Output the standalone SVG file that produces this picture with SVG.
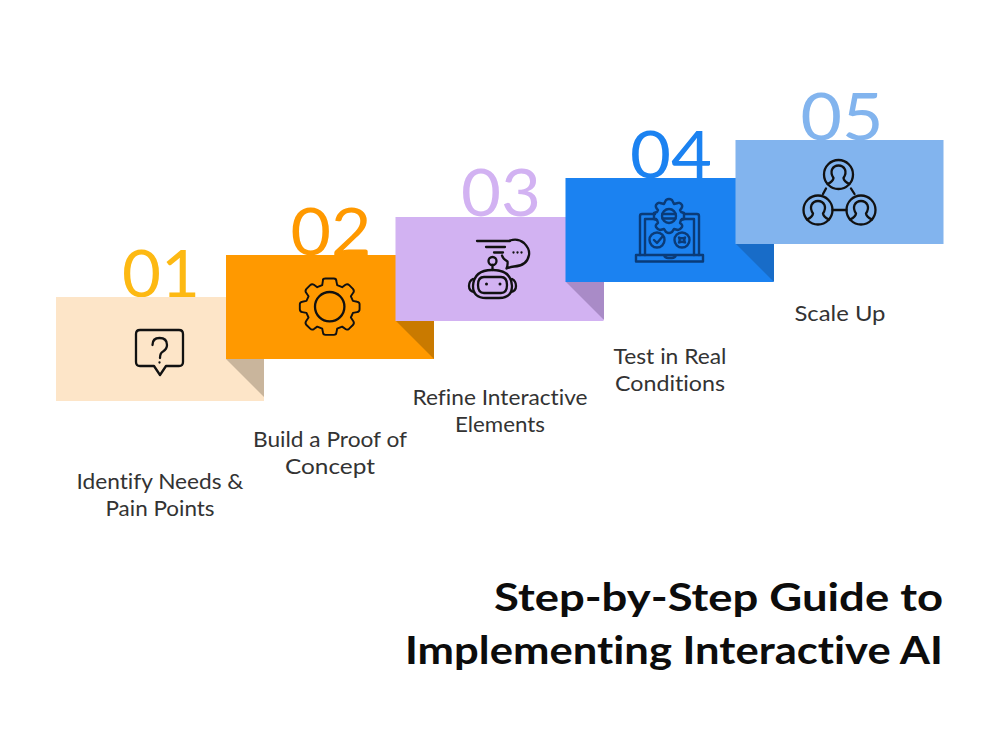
<svg xmlns="http://www.w3.org/2000/svg" width="1000" height="750" viewBox="0 0 1000 750">
<style>
text{font-family:"Lato","Liberation Sans",sans-serif;font-variant-ligatures:none}
.num{font-size:65px;font-weight:400;text-anchor:middle}
.lab{font-size:21px;fill:#333;text-anchor:middle}
.ttl{font-size:39px;font-weight:700;fill:#0c0c0c;text-anchor:end}
.ic{fill:none;stroke:#111;stroke-width:2.300;stroke-linecap:round;stroke-linejoin:round}
.icb{fill:none;stroke:#0a3b78;stroke-width:2.400;stroke-linecap:round;stroke-linejoin:round}
</style>
<rect width="1000" height="750" fill="#fff"/>
<g id="step1">
<text class="num" x="161" y="297" fill="#fdb913" textLength="78" lengthAdjust="spacingAndGlyphs">01</text>
<rect x="56" y="297" width="208" height="104" fill="#fde5c8"/>
<path class="ic" d="M140 330H179Q183 330 183 334V362Q183 366 179 366H166L160 375L154 366H140Q136 366 136 362V334Q136 330 140 330Z"/>
<path class="ic" d="M152.500 345Q152.500 338 159.500 338Q167 338 167 345Q167 349 163 351.500Q160 353 160 358M159.500 362.500V362.600"/>
<text class="lab" x="160" y="489" textLength="167" lengthAdjust="spacingAndGlyphs">Identify Needs &amp;</text>
<text class="lab" x="160" y="516" textLength="109" lengthAdjust="spacingAndGlyphs">Pain Points</text>
</g>
<g id="step2">
<polygon points="226,359 264,359 264,397" fill="#c9b59c"/>
<text class="num" x="331" y="255" fill="#ff9900" textLength="81" lengthAdjust="spacingAndGlyphs">02</text>
<rect x="226" y="255" width="208" height="104" fill="#ff9900"/>
<path class="ic" stroke-width="3" transform="translate(329.700 306.700) scale(.83) translate(-330 -312)" d="M322 279.500Q322 278 325 278H335Q338 278 338 281L339 286L345 288.500L349 285.500Q351.500 284 353.500 286L358 290.500Q360 293 358.500 295L355.500 299.500L358 305L363 306Q366 306.500 366 309V315Q366 318 363 318.500L358 319.500L355.500 325L358.500 329.500Q360 332 358 334L353.500 338.500Q351 340.500 349 339L345 336L339 338.500L338 343.500Q338 346 335 346H325Q322 346 322 343.500L321 338.500L315 336L311 339Q308.500 340.500 306.500 338.500L302 334Q300 332 301.500 329.500L304.500 325L302 319.500L297 318.500Q294 318 294 315V309Q294 306.500 297 306L302 305L304.500 299.500L301.500 295Q300 293 302 290.500L306.500 286Q308.500 284 311 285.500L315 288.500L321 286Z"/>
<circle class="ic" cx="329.700" cy="306.700" r="14.700"/>
<text class="lab" x="330" y="447" textLength="154" lengthAdjust="spacingAndGlyphs">Build a Proof of</text>
<text class="lab" x="330" y="474" textLength="90" lengthAdjust="spacingAndGlyphs">Concept</text>
</g>
<g id="step3">
<polygon points="396,321 434,321 434,359" fill="#c97a00"/>
<text class="num" x="501" y="216" fill="#d2b2f2" textLength="80" lengthAdjust="spacingAndGlyphs">03</text>
<rect x="395.500" y="217" width="208" height="104" fill="#d2b2f2"/>
<path class="ic" d="M477 241H510M486 247H505M494 252.500H503"/>
<path class="ic" d="M510 240.500Q518 238 524 243Q530 249 529 255Q527 266 514 266.500Q510 267 506.500 268.500Q508 265 507.500 261.500Q503 259 502 255.500"/>
<path class="ic" stroke-width="2.600" d="M513.500 252.500V252.600M517.500 252.500V252.600M521.500 252.500V252.600"/>
<circle class="ic" cx="492.500" cy="261" r="4"/>
<path class="ic" d="M492.500 265V270"/>
<path class="ic" d="M473 286Q474 270 492 270H493Q511 270 512 286Q512 298 499 298H486Q473 298 473 286Z"/>
<path class="ic" d="M484 277H501Q507 277 507 285Q507 293 501 293H484Q478 293 478 285Q478 277 484 277Z"/>
<path class="ic" d="M473 279Q469 281 469 286Q469 291 474 292M512 279Q516 281 516 286Q516 291 511 292"/>
<circle cx="486.500" cy="284" r="1.500" fill="#111"/><circle cx="500" cy="284" r="1.500" fill="#111"/>
<text class="lab" x="500" y="405" textLength="175" lengthAdjust="spacingAndGlyphs">Refine Interactive</text>
<text class="lab" x="500" y="432" textLength="90" lengthAdjust="spacingAndGlyphs">Elements</text>
</g>
<g id="step4">
<polygon points="566,282 604,282 604,320" fill="#a98bc7"/>
<text class="num" x="671" y="178" fill="#1b82f1" textLength="82" lengthAdjust="spacingAndGlyphs">04</text>
<rect x="565.500" y="178" width="208" height="104" fill="#1b82f1"/>
<path class="icb" d="M655 214H642Q640 214 640 216V255M699 255V216Q699 214 697 214H684M645 255V219H656M694 255V219H682"/>
<path class="icb" d="M636 255H703V261.500H636ZM664 255Q665 258 668 258H672Q675 258 676 255"/>
<path class="icb" d="M666 201Q669 199 672 201L674 205L678 204Q680 203 682 206Q683 208 680 211L681 213L684 214V220L681 221L680 224Q683 226 682 228Q680 231 678 231L674 230L672 233Q669 235 666 233L664 230L660 231Q658 231 656 228Q655 226 658 224L657 221L654 220V214L657 213L658 211Q655 208 656 206Q658 203 660 204L664 205Z" transform="translate(0 -1)"/>
<circle class="icb" cx="669" cy="216" r="7"/>
<path class="icb" d="M662.500 214H675.500M662.500 218.500H675.500"/>
<circle class="icb" cx="657" cy="240" r="7.500"/>
<path class="icb" d="M654 240L657 243L663 236"/>
<circle class="icb" cx="682" cy="240" r="7.500"/>
<path class="icb" d="M679 237.500Q682 239 685 237.500Q683.500 240 685 242.500Q682 241 679 242.500Q680.500 240 679 237.500Z"/>
<text class="lab" x="670" y="364" textLength="113" lengthAdjust="spacingAndGlyphs">Test in Real</text>
<text class="lab" x="670" y="391" textLength="110" lengthAdjust="spacingAndGlyphs">Conditions</text>
</g>
<g id="step5">
<polygon points="736,244 774,244 774,282" fill="#186cc8"/>
<text class="num" x="842" y="140" fill="#82b4ee" textLength="83" lengthAdjust="spacingAndGlyphs">05</text>
<rect x="735.500" y="140" width="208" height="104" fill="#82b4ee"/>
<g class="ic" stroke-width="2.500">
<circle cx="838.500" cy="174.500" r="14.500"/>
<circle cx="818" cy="210" r="14.500"/>
<circle cx="861" cy="210" r="14.500"/>
<path d="M827.500 184Q833 181.500 833.500 178Q830.500 173.500 832 169.500Q834 165.500 838.500 165.500Q843 165.500 845 169.500Q846.500 173.500 843.500 178Q844 181.500 849.500 184"/>
<path d="M807 219.500Q812.500 217 813 213.500Q810 209 811.500 205Q813.500 201 818 201Q822.500 201 824.500 205Q826 209 823 213.500Q823.500 217 829 219.500"/>
<path d="M850 219.500Q855.500 217 856 213.500Q853 209 854.500 205Q856.500 201 861 201Q865.500 201 867.500 205Q869 209 866 213.500Q866.500 217 872 219.500"/>
<path d="M823 194L826 188.500M851 188.500L854.500 194M832.500 210H846.500"/>
</g>
<text class="lab" x="840" y="321" textLength="91" lengthAdjust="spacingAndGlyphs">Scale Up</text>
</g>
<g id="title">
<text class="ttl" x="943" y="611" textLength="449" lengthAdjust="spacingAndGlyphs">Step-by-Step Guide to</text>
<text class="ttl" x="943" y="664" textLength="538" lengthAdjust="spacingAndGlyphs">Implementing Interactive AI</text>
</g>
</svg>
